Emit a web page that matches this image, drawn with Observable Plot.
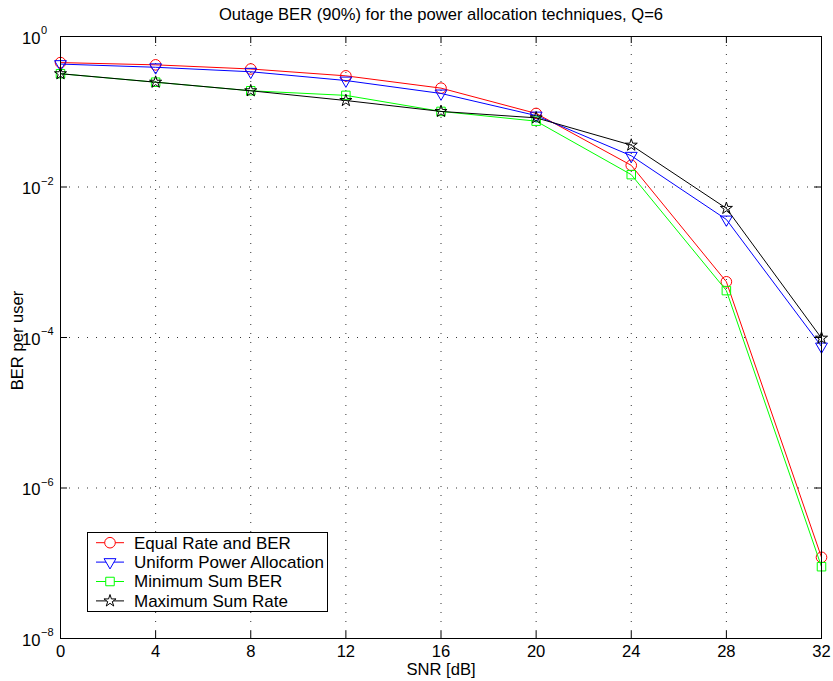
<!DOCTYPE html>
<html><head><meta charset="utf-8">
<script src="https://cdn.jsdelivr.net/npm/d3@7"></script>
<script src="https://cdn.jsdelivr.net/npm/@observablehq/plot@0.6"></script>
<style>
body{margin:0;background:#fff;}
#wrap{position:relative;width:833px;height:681px;font-family:"Liberation Sans",Arial,Helvetica,sans-serif;}
#legend{position:absolute;left:87px;top:532px;}
</style></head><body><div id="wrap"></div>
<script>
const snr = [0, 4, 8, 12, 16, 20, 24, 28, 32];
const equalRate = [0.45, 0.42, 0.37, 0.30, 0.206, 0.095, 0.0194, 5.5e-4, 1.2e-7];
const uniformPower = [0.43, 0.39, 0.34, 0.26, 0.175, 0.089, 0.026, 0.0037, 7.6e-5];
const minSumBER = [0.32, 0.247, 0.19, 0.165, 0.101, 0.075, 0.0146, 4.2e-4, 9e-8];
const maxSumRate = [0.32, 0.247, 0.19, 0.141, 0.101, 0.083, 0.036, 0.0052, 9.8e-5];
const seriesNames = ["Equal Rate and BER", "Uniform Power Allocation", "Minimum Sum BER", "Maximum Sum Rate"];
const seriesColors = ["#ff0000", "#0000ff", "#00ff00", "#000000"];
const xTicks = [0, 4, 8, 12, 16, 20, 24, 28, 32];
const yTicks = [1, 1e-2, 1e-4, 1e-6, 1e-8];
const yExponents = ["0", "\u22122", "\u22124", "\u22126", "\u22128"];
const title = "Outage BER (90%) for the power allocation techniques, Q=6";
const xLabel = "SNR [dB]";
const yLabel = "BER per user";

const seriesValues = [equalRate, uniformPower, minSumBER, maxSumRate];
const symbols = [
  {symbol: "circle", r: 5.3, rotate: 0, d3s: d3.symbolCircle},
  {symbol: "triangle", r: 4.4, rotate: 180, d3s: d3.symbolTriangle},
  {symbol: "square", r: 4.8, rotate: 0, d3s: d3.symbolSquare},
  {symbol: "star", r: 3.8, rotate: 0, d3s: d3.symbolStar}
];

const W = 833, H = 681, mT = 36, mR = 12, mB = 43, mL = 60;
const innerW = W - mL - mR, innerH = H - mT - mB;
const tickLen = 7;
const FS = 16.6;

const marks = [];
// grid
marks.push(Plot.ruleX(xTicks.slice(1, -1), {x: d => d, stroke: "#333", strokeDasharray: "1,8", strokeWidth: 1}));
marks.push(Plot.ruleY(yTicks.slice(1, -1), {y: d => d, stroke: "#333", strokeDasharray: "1,8", strokeWidth: 1}));
// series
seriesNames.forEach((name, i) => {
  const rows = snr.map((x, j) => ({x, y: seriesValues[i][j]}));
  marks.push(Plot.line(rows, {x: "x", y: "y", stroke: seriesColors[i], strokeWidth: 1}));
  marks.push(Plot.dot(rows, {x: "x", y: "y", symbol: symbols[i].symbol, r: symbols[i].r, rotate: symbols[i].rotate, stroke: seriesColors[i], fill: "none", strokeWidth: 1}));
});
// frame and inward ticks
marks.push(Plot.frame({stroke: "#000", strokeWidth: 1}));
marks.push(Plot.tickX(xTicks, {x: d => d, insetTop: innerH - tickLen, stroke: "#000"}));
marks.push(Plot.tickX(xTicks, {x: d => d, insetBottom: innerH - tickLen, stroke: "#000"}));
marks.push(Plot.tickY(yTicks, {y: d => d, insetRight: innerW - tickLen, stroke: "#000"}));
marks.push(Plot.tickY(yTicks, {y: d => d, insetLeft: innerW - tickLen, stroke: "#000"}));
// x tick labels
marks.push(Plot.axisX(xTicks, {tickSize: 0, tickPadding: 7, tickFormat: d => String(d), label: null, fontSize: FS, fill: "#000"}));
// y tick labels (10 with superscript)
marks.push(Plot.text(yTicks, {y: d => d, frameAnchor: "left", text: () => "10", textAnchor: "end", lineAnchor: "middle", dx: -20, dy: 2, fontSize: FS, fill: "#000"}));
marks.push(Plot.text(yTicks.map((v, i) => ({v, e: yExponents[i]})), {y: "v", frameAnchor: "left", text: "e", textAnchor: "start", lineAnchor: "middle", dx: -19.5, dy: -6, fontSize: 11, fill: "#000"}));
// titles
marks.push(Plot.text([title], {frameAnchor: "top", text: d => d, lineAnchor: "middle", textAnchor: "middle", dy: -22, fontSize: FS, fill: "#000"}));
marks.push(Plot.text([xLabel], {frameAnchor: "bottom", text: d => d, lineAnchor: "middle", textAnchor: "middle", dy: 31, fontSize: FS, fill: "#000"}));
marks.push(Plot.text([yLabel], {frameAnchor: "left", text: d => d, lineAnchor: "middle", textAnchor: "middle", dx: -43, dy: 3, rotate: -90, fontSize: FS, fill: "#000"}));

const chart = Plot.plot({
  width: W, height: H,
  marginTop: mT, marginRight: mR, marginBottom: mB, marginLeft: mL,
  x: {domain: [0, 32], axis: null},
  y: {type: "log", domain: [1e-8, 1], axis: null},
  style: {fontFamily: '"Liberation Sans", Arial, Helvetica, sans-serif', fontSize: FS + "px", background: "#fff", color: "#000"},
  marks
});
const wrap = document.getElementById("wrap");
wrap.appendChild(chart);

// legend
const LW = 241, LH = 80, rowH = 19.4, row0 = 10.7;
const leg = d3.select(wrap).append("svg").attr("id", "legend").attr("width", LW).attr("height", LH)
  .style("font-family", '"Liberation Sans", Arial, Helvetica, sans-serif').style("font-size", "17px");
leg.append("rect").attr("x", 0.5).attr("y", 0.5).attr("width", LW - 1).attr("height", LH - 1).attr("fill", "#fff").attr("stroke", "#000");
seriesNames.forEach((name, i) => {
  const y = row0 + i * rowH;
  const g = leg.append("g");
  g.append("line").attr("x1", 9).attr("x2", 37).attr("y1", y).attr("y2", y).attr("stroke", seriesColors[i]);
  g.append("path").attr("d", d3.symbol(symbols[i].d3s, Math.PI * symbols[i].r ** 2)())
    .attr("transform", `translate(23,${y}) rotate(${symbols[i].rotate})`)
    .attr("fill", "#fff").attr("stroke", seriesColors[i]);
  g.append("text").attr("x", 47).attr("y", y).attr("dy", "0.35em").attr("fill", "#000").text(name);
});
</script></body></html>
